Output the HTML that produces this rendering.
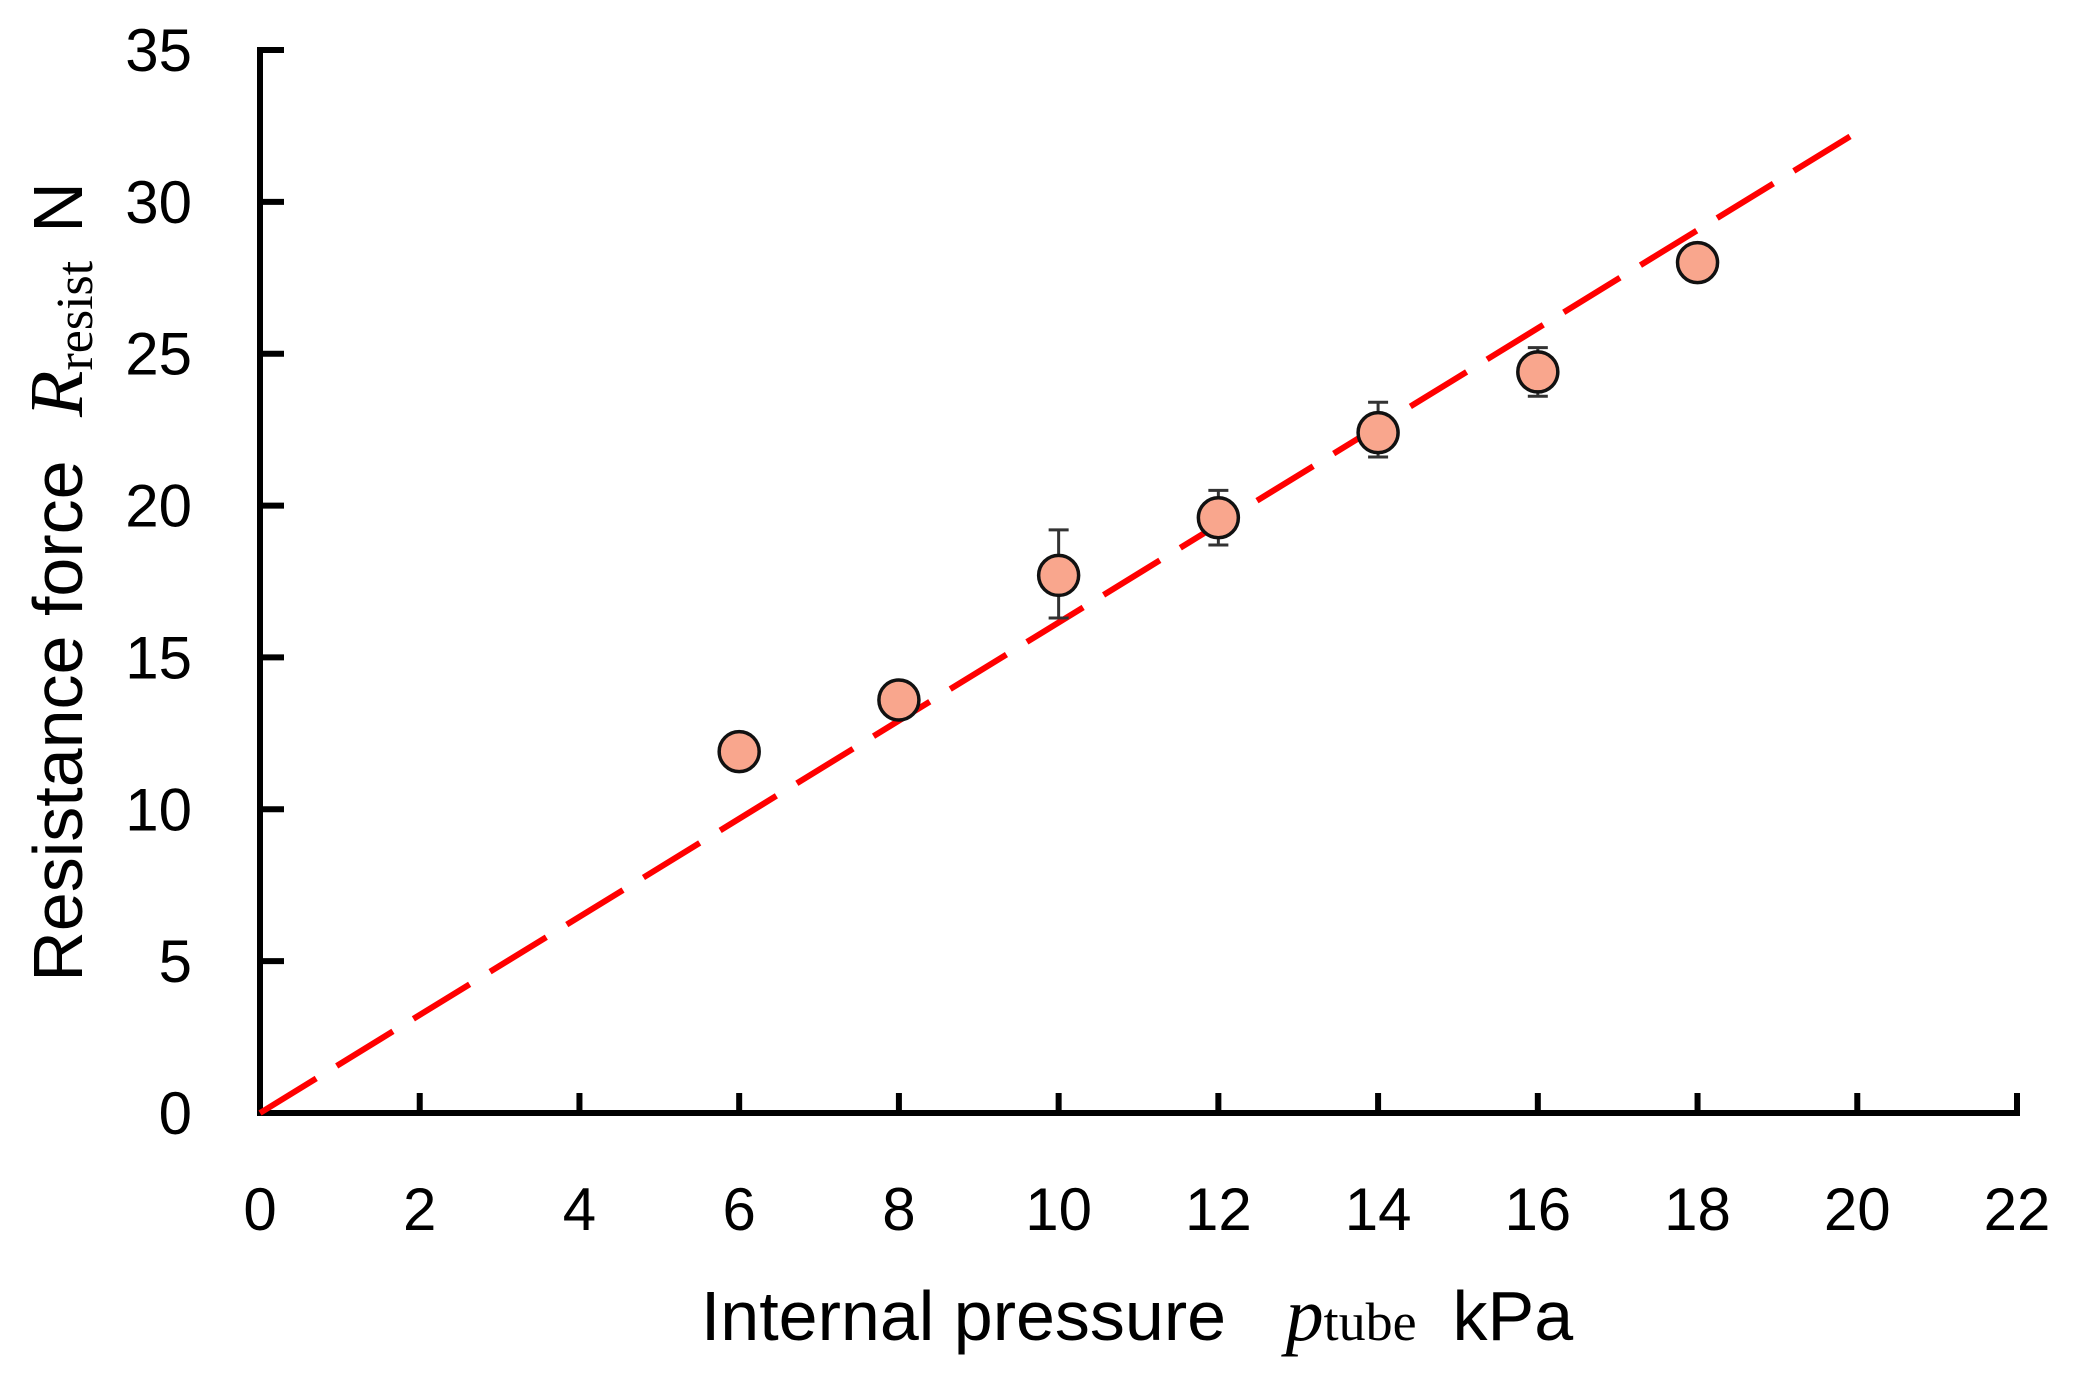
<!DOCTYPE html>
<html><head><meta charset="utf-8"><style>
html,body{margin:0;padding:0;background:#fff;}
svg{display:block;font-family:"Liberation Sans","DejaVu Sans",sans-serif;}
</style></head><body>
<svg id="chart" width="2073" height="1384" viewBox="0 0 2073 1384">
<g id="axes"></g>
<g id="fit"></g>
<g id="pts"></g>
<text x="1137" y="1340" text-anchor="middle" font-size="70">Internal pressure <tspan font-family="Liberation Serif,serif" font-style="italic" font-size="76" dx="40">p</tspan><tspan font-family="Liberation Serif,serif" font-size="54">tube</tspan><tspan dx="36">kPa</tspan></text>
<text transform="translate(82,582) rotate(-90)" text-anchor="middle" font-size="70">Resistance force <tspan font-family="Liberation Serif,serif" font-style="italic" font-size="76" dx="24">R</tspan><tspan font-family="Liberation Serif,serif" font-size="52" dy="10">resist</tspan><tspan dy="-10" dx="28">N</tspan></text>
</svg>
<script>
const xTicks=[0,2,4,6,8,10,12,14,16,18,20,22];
const yTicks=[0,5,10,15,20,25,30,35];
const pressure=[6,8,10,12,14,16,18];
const force=[11.9,13.6,17.7,19.6,22.4,24.4,28.0];
const errUp=[0,0,1.5,0.9,1.0,0.8,0.3];
const errDown=[0,0,1.4,0.9,0.8,0.8,0];
const fitX=[0,20];
const fitY=[0,32.3];
const NS='http://www.w3.org/2000/svg';
const X0=260,X1=2017,Y0=1113,Y1=50;
const sx=v=>X0+(v-0)/(22-0)*(X1-X0);
const sy=v=>Y0-(v-0)/(35-0)*(Y0-Y1);
function mk(tag,attrs,parent){const e=document.createElementNS(NS,tag);for(const k in attrs)e.setAttribute(k,attrs[k]);parent.appendChild(e);return e;}
const ax=document.getElementById('axes');
let e=mk('line',{x1:sx(0)-3,y1:sy(0),x2:sx(22)+3,y2:sy(0),stroke:'#000','stroke-width':6},ax);


e=mk('line',{x1:sx(0),y1:sy(0)+3,x2:sx(0),y2:sy(35)-3,stroke:'#000','stroke-width':6},ax);


xTicks.forEach(t=>{
 let l=mk('line',{x1:sx(t),y1:sy(0),x2:sx(t),y2:sy(0)-20,stroke:'#000','stroke-width':6},ax);
 
 
 let tx=mk('text',{x:sx(t),y:1230,'text-anchor':'middle','font-size':60},ax);
 tx.textContent=t;
 
 
});
yTicks.forEach(t=>{
 let l=mk('line',{x1:sx(0),y1:sy(t),x2:sx(0)+24,y2:sy(t),stroke:'#000','stroke-width':6},ax);
 
 
 let tx=mk('text',{x:192,y:sy(t)+21,'text-anchor':'end','font-size':60},ax);
 tx.textContent=t;
 
 
});
const fit=document.getElementById('fit');
e=mk('line',{x1:sx(fitX[0]),y1:sy(fitY[0]),x2:sx(fitX[1]),y2:sy(fitY[1]),stroke:'#f00','stroke-width':6,'stroke-dasharray':'66 24'},fit);


const pts=document.getElementById('pts');
pressure.forEach((p,i)=>{
 const cx=sx(p),cy=sy(force[i]);
 if(errUp[i]>0||errDown[i]>0){
  let g=mk('g',{stroke:'#333','stroke-width':3},pts);
  
  
  const yt=sy(force[i]+errUp[i]),yb=sy(force[i]-errDown[i]);
  mk('line',{x1:cx,y1:yt,x2:cx,y2:yb},g);
  mk('line',{x1:cx-10,y1:yt,x2:cx+10,y2:yt},g);
  mk('line',{x1:cx-10,y1:yb,x2:cx+10,y2:yb},g);
 }
 let c=mk('circle',{cx:cx,cy:cy,r:20,fill:'#f9a68d',stroke:'#111','stroke-width':3.5},pts);
 
 
});
</script>
</body></html>
